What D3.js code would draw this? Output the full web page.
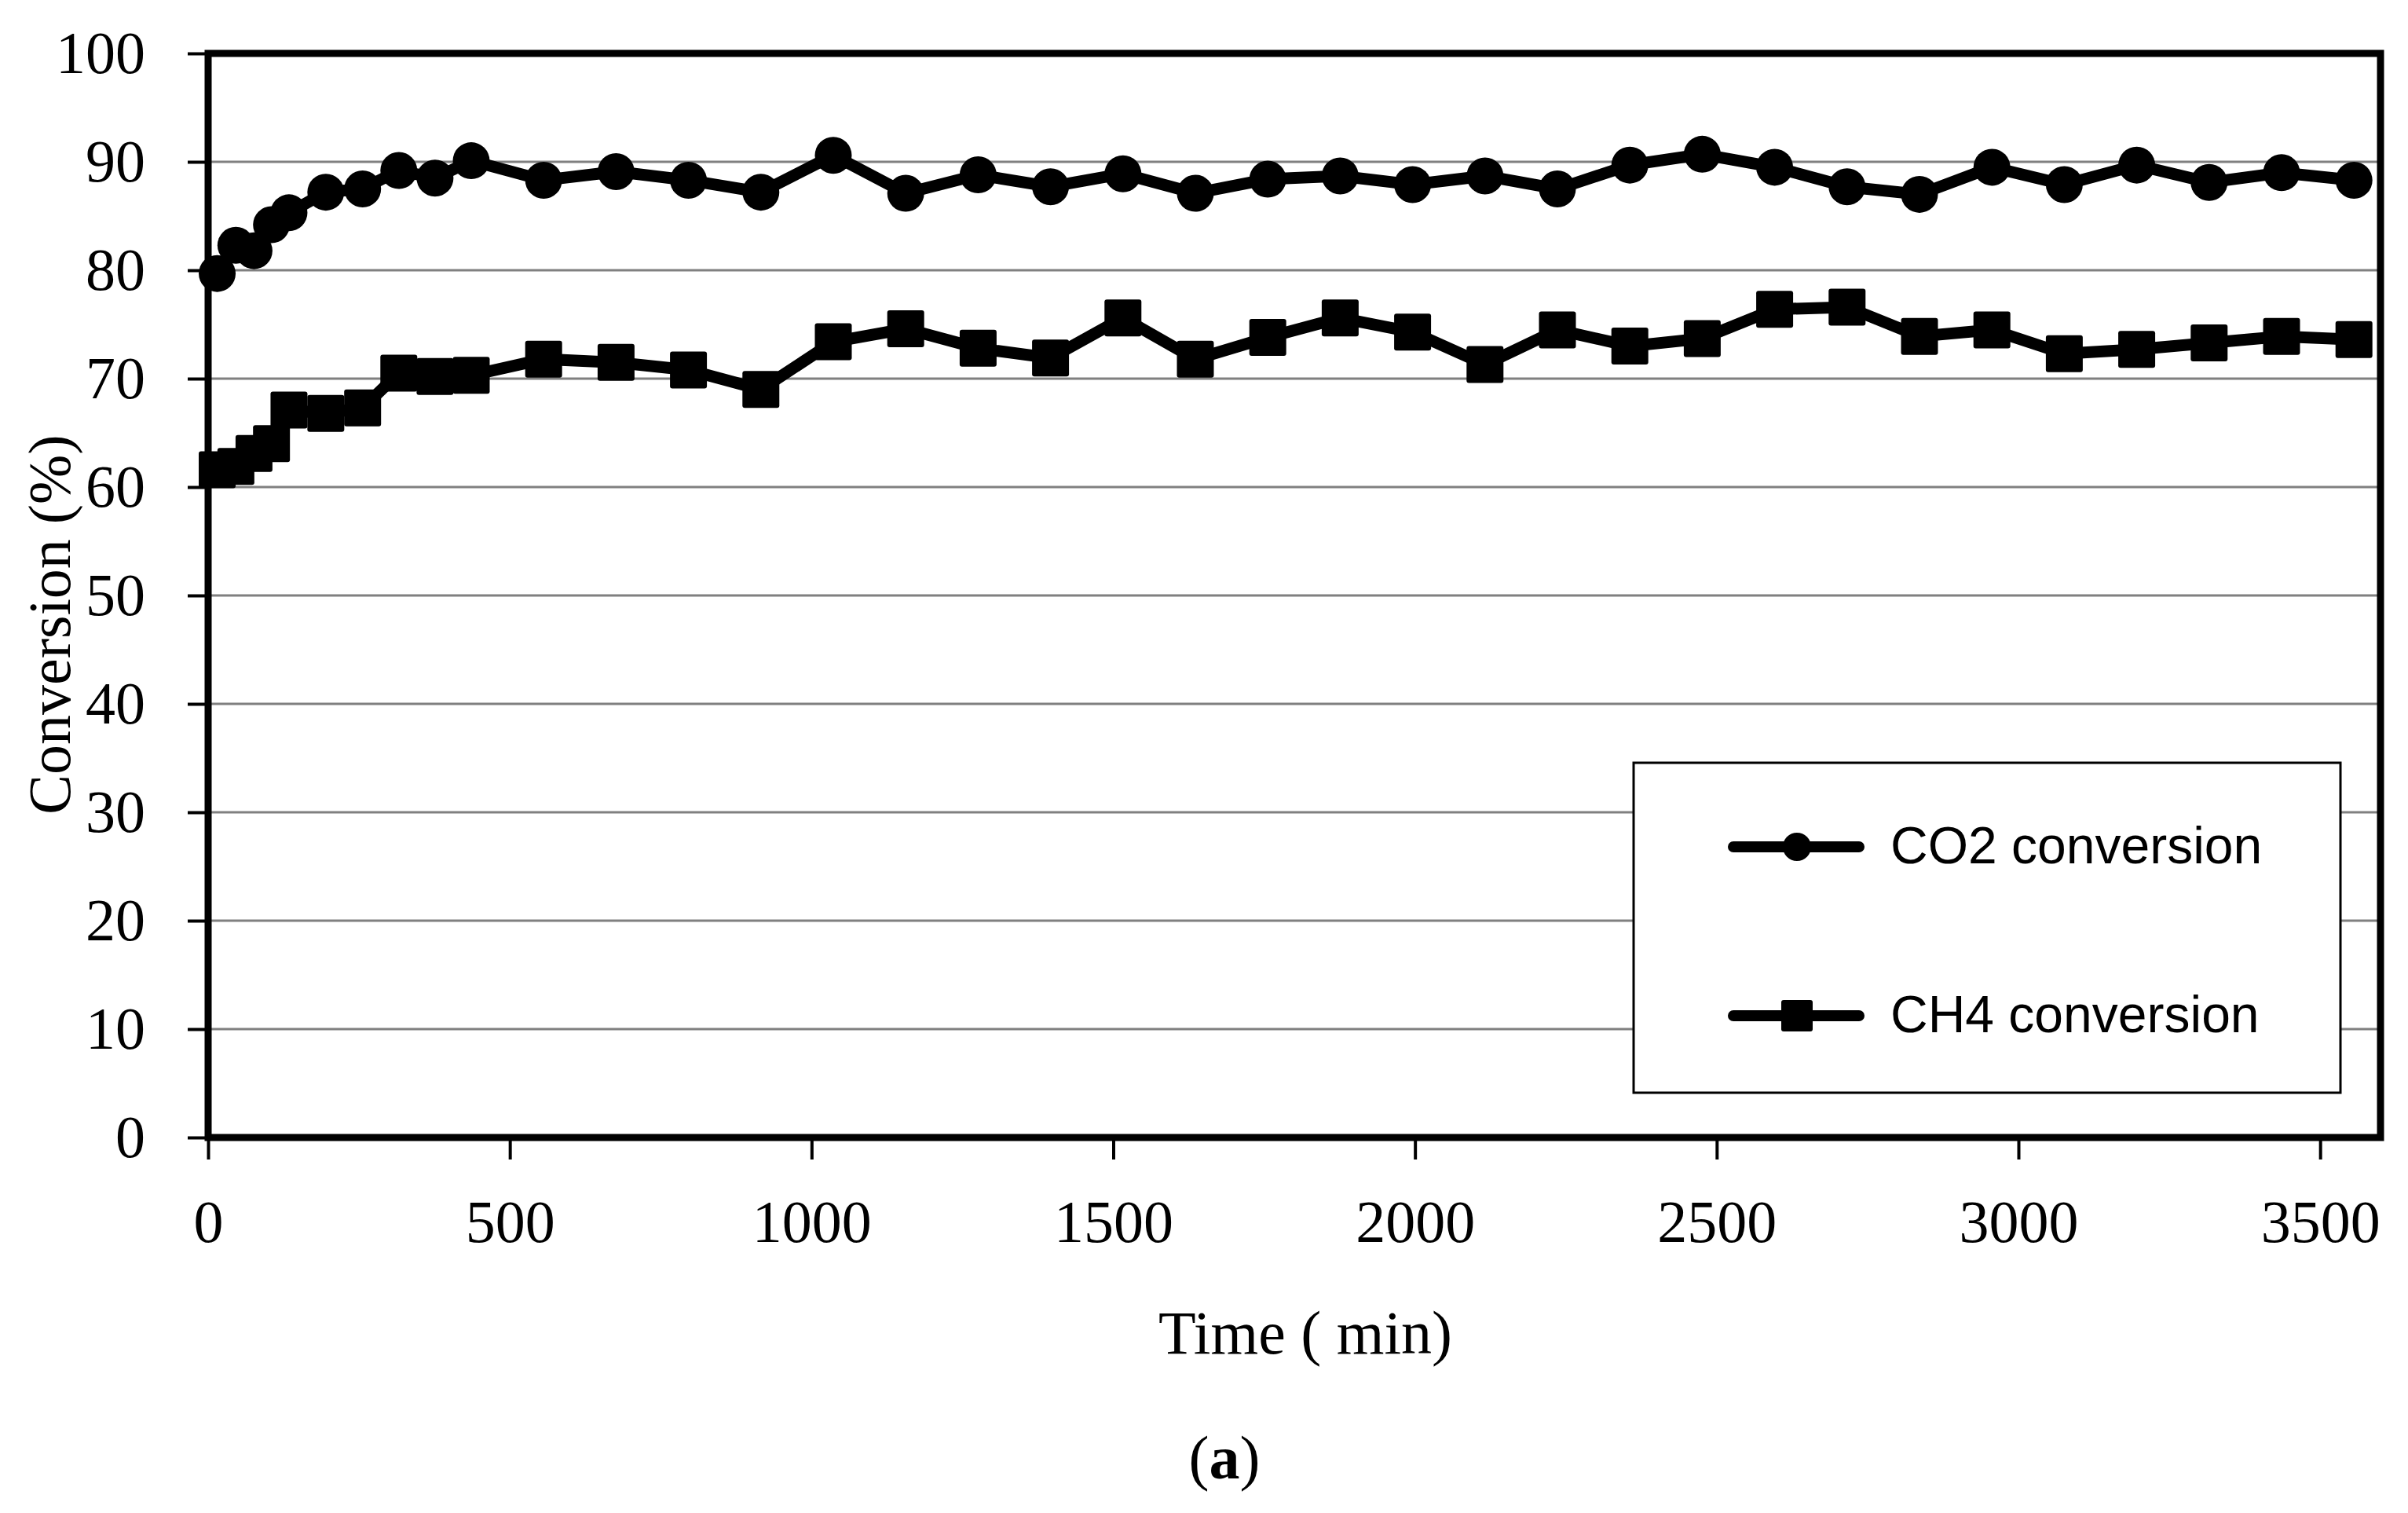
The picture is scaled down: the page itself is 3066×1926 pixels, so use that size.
<!DOCTYPE html>
<html>
<head>
<meta charset="utf-8">
<script src="https://cdn.jsdelivr.net/npm/d3@7"></script>
<style>
  html, body { margin: 0; padding: 0; background: #fff; }
  svg { display: block; }
</style>
</head>
<body>
<div id="chart"></div>
<script>
// time on stream (min)
const times = [15, 46, 76, 105, 134, 195, 256, 316, 376, 436, 556, 676, 796, 916, 1036,
  1156, 1276, 1396, 1516, 1636, 1756, 1876, 1996, 2116, 2236, 2356, 2476, 2596, 2716,
  2836, 2956, 3076, 3196, 3316, 3436, 3556]

const co2 = [79.7, 82.3, 81.8, 84.2, 85.3, 87.2, 87.5, 89.2, 88.5, 90.1, 88.3, 89.1, 88.3,
  87.2, 90.6, 87.1, 88.8, 87.7, 88.9, 87.1, 88.4, 88.7, 87.9, 88.7, 87.5, 89.7, 90.7,
  89.5, 87.7, 87.0, 89.5, 87.9, 89.7, 88.1, 89.0, 88.3]

const ch4 = [61.6, 61.9, 63.1, 64.0, 67.1, 66.8, 67.3, 70.5, 70.2, 70.3, 71.8, 71.5, 70.8,
  69.0, 73.4, 74.6, 72.8, 71.9, 75.6, 71.8, 73.8, 75.6, 74.3, 71.3, 74.5, 73.0, 73.7,
  76.4, 76.6, 73.9, 74.5, 72.3, 72.7, 73.3, 73.9, 73.6]

const xTicks = [0, 500, 1000, 1500, 2000, 2500, 3000, 3500]
const yTicks = [0, 10, 20, 30, 40, 50, 60, 70, 80, 90, 100]

const series = [
  { name: 'CO2 conversion', values: co2, marker: 'circle' },
  { name: 'CH4 conversion', values: ch4, marker: 'square' }
]

const W = 3066
const H = 1926
const plotL = 265
const plotR = 3031
const plotT = 68
const plotB = 1448
const serif = '"Liberation Serif", "Times New Roman", serif'
const sans = '"Liberation Sans", Arial, sans-serif'

const svg = d3.select('#chart')
  .append('svg')
  .attr('width', W)
  .attr('height', H)

const x = d3.scaleLinear().domain([0, 3600]).range([plotL, plotR])
const y = d3.scaleLinear().domain([0, 100]).range([plotB, plotT])

// gridlines
svg.append('g')
  .selectAll('line')
  .data(yTicks.filter(d => d > 0 && d < 100))
  .join('line')
  .attr('x1', plotL)
  .attr('x2', plotR)
  .attr('y1', d => y(d))
  .attr('y2', d => y(d))
  .attr('stroke', '#808080')
  .attr('stroke-width', 3)

// y axis
const yAxis = svg.append('g')
  .attr('transform', `translate(${plotL},0)`)
  .call(d3.axisLeft(y).tickValues(yTicks).tickFormat(d3.format('d'))
    .tickSize(26).tickPadding(54).tickSizeOuter(0))
yAxis.select('.domain').remove()
yAxis.selectAll('line').attr('stroke', '#000').attr('stroke-width', 4)
yAxis.selectAll('text')
  .attr('font-family', serif)
  .attr('font-size', 76)
  .attr('fill', '#000')

// x axis
const xAxis = svg.append('g')
  .attr('transform', `translate(0,${plotB})`)
  .call(d3.axisBottom(x).tickValues(xTicks).tickFormat(d3.format('d'))
    .tickSize(28).tickPadding(51).tickSizeOuter(0))
xAxis.select('.domain').remove()
xAxis.selectAll('line').attr('stroke', '#000').attr('stroke-width', 4)
xAxis.selectAll('text')
  .attr('font-family', serif)
  .attr('font-size', 76)
  .attr('fill', '#000')

// plot frame
svg.append('rect')
  .attr('x', plotL)
  .attr('y', plotT)
  .attr('width', plotR - plotL)
  .attr('height', plotB - plotT)
  .attr('fill', 'none')
  .attr('stroke', '#000')
  .attr('stroke-width', 9)

// series lines + markers
const line = d3.line()
  .x((d, i) => x(times[i]))
  .y(d => y(d))

function drawMarker(g, type, cx, cy, size) {
  if (type === 'circle') {
    g.append('circle')
      .attr('cx', cx)
      .attr('cy', cy)
      .attr('r', size / 2)
      .attr('fill', '#000')
  } else {
    g.append('rect')
      .attr('x', cx - size / 2)
      .attr('y', cy - size / 2)
      .attr('width', size)
      .attr('height', size)
      .attr('rx', 3)
      .attr('fill', '#000')
  }
}

series.forEach(s => {
  const g = svg.append('g')
  g.append('path')
    .datum(s.values)
    .attr('d', line)
    .attr('fill', 'none')
    .attr('stroke', '#000')
    .attr('stroke-width', 15)
    .attr('stroke-linejoin', 'miter')
  s.values.forEach((v, i) => drawMarker(g, s.marker, x(times[i]), y(v), 47))
})

// legend
const legend = svg.append('g')
legend.append('rect')
  .attr('x', 2080)
  .attr('y', 971)
  .attr('width', 900)
  .attr('height', 420)
  .attr('fill', '#fff')
  .attr('stroke', '#000')
  .attr('stroke-width', 3)

const legendRows = [1078, 1293]
series.forEach((s, i) => {
  const ly = legendRows[i]
  legend.append('line')
    .attr('x1', 2207)
    .attr('x2', 2367)
    .attr('y1', ly)
    .attr('y2', ly)
    .attr('stroke', '#000')
    .attr('stroke-width', 14)
    .attr('stroke-linecap', 'round')
  drawMarker(legend, s.marker, 2288, ly, s.marker === 'circle' ? 36 : 40)
  legend.append('text')
    .attr('x', 2407)
    .attr('y', ly + 21)
    .attr('font-family', sans)
    .attr('font-size', 66)
    .attr('fill', '#000')
    .text(s.name)
})

// axis titles
svg.append('text')
  .attr('transform', 'translate(89,795) rotate(-90)')
  .attr('text-anchor', 'middle')
  .attr('font-family', serif)
  .attr('font-size', 76)
  .text('Conversion (%)')

svg.append('text')
  .attr('x', 1662)
  .attr('y', 1723)
  .attr('text-anchor', 'middle')
  .attr('font-family', serif)
  .attr('font-size', 78)
  .text('Time ( min)')

const cap = svg.append('text')
  .attr('x', 1559)
  .attr('y', 1882)
  .attr('text-anchor', 'middle')
  .attr('font-family', serif)
  .attr('font-size', 78)
cap.append('tspan').text('(')
cap.append('tspan').attr('font-weight', 'bold').text('a')
cap.append('tspan').text(')')
</script>
</body>
</html>
